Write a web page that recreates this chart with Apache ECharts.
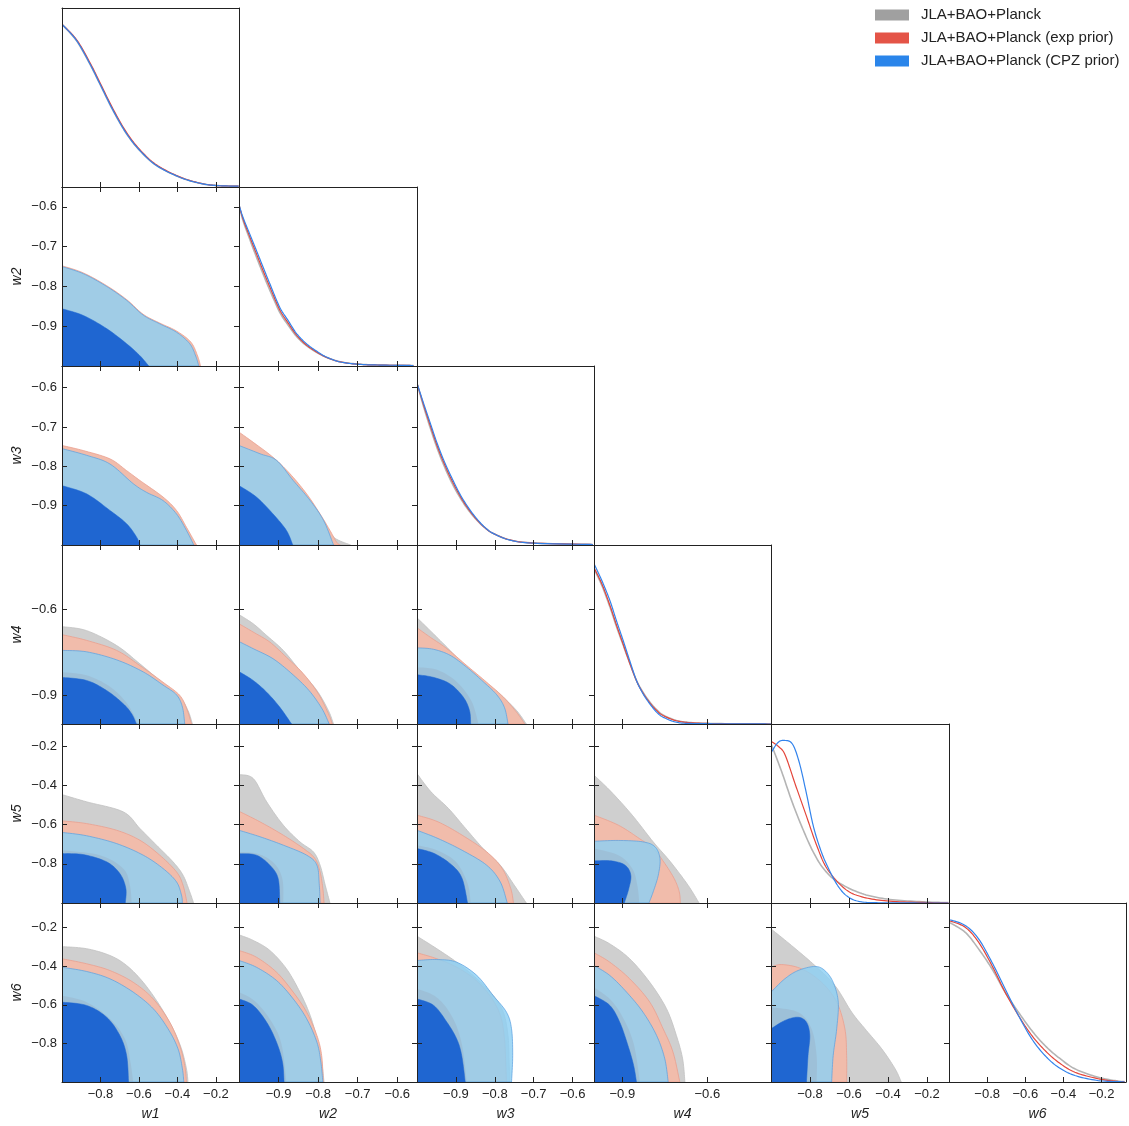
<!DOCTYPE html>
<html><head><meta charset="utf-8">
<script src="https://cdn.jsdelivr.net/npm/echarts@6/dist/echarts.min.js"></script>
<style>html,body{margin:0;padding:0;background:#fff}#c{width:1129px;height:1126px}</style>
</head><body><div id="c"></div>
<script>
// ---------------- data ----------------
const varNames = ['w1','w2','w3','w4','w5','w6'];
const axisMin = [-1,-1,-1,-1,-1,-1];
const axisMax = [-0.08,-0.55,-0.545,-0.375,-0.087,-0.072];
const tickVals = [[-0.8,-0.6,-0.4,-0.2],[-0.9,-0.8,-0.7,-0.6],[-0.9,-0.8,-0.7,-0.6],[-0.9,-0.6],[-0.8,-0.6,-0.4,-0.2],[-0.8,-0.6,-0.4,-0.2]];
const seriesNames = ['JLA+BAO+Planck','JLA+BAO+Planck (exp prior)','JLA+BAO+Planck (CPZ prior)'];

// 1D marginals (normalised densities)
const d1_gray = [[-1,1.0],[-0.924,0.898],[-0.855,0.755],[-0.803,0.632],[-0.734,0.468],[-0.664,0.326],[-0.595,0.223],[-0.509,0.132],[-0.388,0.06],[-0.284,0.023],[-0.198,0.009],[-0.082,0.005]];
const d1_red  = [[-1,1.0],[-0.924,0.905],[-0.855,0.765],[-0.803,0.642],[-0.734,0.478],[-0.664,0.334],[-0.595,0.229],[-0.509,0.136],[-0.388,0.062],[-0.284,0.024],[-0.198,0.009],[-0.082,0.005]];
const d1_blue = [[-1,1.0],[-0.924,0.9],[-0.855,0.757],[-0.803,0.634],[-0.734,0.47],[-0.664,0.327],[-0.595,0.224],[-0.509,0.132],[-0.388,0.06],[-0.284,0.023],[-0.198,0.009],[-0.082,0.005]];

const d2_gray = [[-1,0.99],[-0.99,0.895],[-0.973,0.78],[-0.956,0.67],[-0.939,0.565],[-0.922,0.465],[-0.897,0.33],[-0.876,0.252],[-0.854,0.18],[-0.829,0.124],[-0.803,0.083],[-0.778,0.052],[-0.744,0.026],[-0.70,0.012],[-0.65,0.006],[-0.559,0.003]];
const d2_red  = [[-1,0.99],[-0.99,0.905],[-0.973,0.795],[-0.956,0.69],[-0.939,0.585],[-0.922,0.485],[-0.897,0.345],[-0.876,0.265],[-0.854,0.188],[-0.829,0.128],[-0.803,0.085],[-0.778,0.052],[-0.744,0.025],[-0.70,0.011],[-0.65,0.006],[-0.559,0.003]];
const d2_blue = [[-1,0.99],[-0.99,0.914],[-0.973,0.812],[-0.956,0.71],[-0.939,0.607],[-0.922,0.505],[-0.897,0.361],[-0.876,0.28],[-0.854,0.198],[-0.829,0.136],[-0.803,0.09],[-0.778,0.054],[-0.744,0.025],[-0.70,0.011],[-0.65,0.006],[-0.559,0.003]];

const d3_gray = [[-1,0.994],[-0.983,0.85],[-0.966,0.72],[-0.949,0.6],[-0.931,0.49],[-0.91,0.38],[-0.889,0.29],[-0.868,0.215],[-0.846,0.152],[-0.824,0.103],[-0.803,0.07],[-0.761,0.031],[-0.70,0.012],[-0.548,0.003]];
const d3_red  = [[-1,0.994],[-0.983,0.86],[-0.966,0.735],[-0.949,0.615],[-0.931,0.505],[-0.91,0.395],[-0.889,0.3],[-0.868,0.222],[-0.846,0.155],[-0.824,0.103],[-0.803,0.07],[-0.761,0.031],[-0.70,0.012],[-0.548,0.003]];
const d3_blue = [[-1,0.994],[-0.983,0.87],[-0.966,0.75],[-0.949,0.63],[-0.931,0.52],[-0.91,0.41],[-0.889,0.31],[-0.868,0.23],[-0.846,0.16],[-0.824,0.105],[-0.803,0.07],[-0.761,0.03],[-0.70,0.011],[-0.548,0.003]];

const d4_gray = [[-1,0.955],[-0.972,0.85],[-0.944,0.72],[-0.921,0.6],[-0.897,0.485],[-0.874,0.375],[-0.85,0.268],[-0.827,0.195],[-0.803,0.135],[-0.78,0.09],[-0.756,0.056],[-0.709,0.022],[-0.651,0.008],[-0.55,0.002],[-0.375,0]];
const d4_red  = [[-1,0.96],[-0.972,0.86],[-0.944,0.73],[-0.921,0.61],[-0.897,0.49],[-0.874,0.375],[-0.85,0.265],[-0.827,0.19],[-0.803,0.13],[-0.78,0.085],[-0.756,0.052],[-0.709,0.02],[-0.651,0.007],[-0.55,0.002],[-0.375,0]];
const d4_blue = [[-1,0.985],[-0.972,0.88],[-0.944,0.759],[-0.921,0.636],[-0.897,0.513],[-0.874,0.39],[-0.85,0.267],[-0.827,0.186],[-0.803,0.124],[-0.78,0.075],[-0.756,0.042],[-0.709,0.011],[-0.651,0.003],[-0.5,0.001],[-0.375,0]];

const d5_gray = [[-1,0.97],[-0.994,0.96],[-0.945,0.806],[-0.892,0.622],[-0.838,0.458],[-0.784,0.315],[-0.731,0.212],[-0.659,0.13],[-0.534,0.058],[-0.391,0.022],[-0.212,0.007],[-0.09,0.002]];
const d5_red  = [[-1,0.994],[-0.96,0.96],[-0.927,0.908],[-0.874,0.724],[-0.82,0.54],[-0.766,0.355],[-0.713,0.212],[-0.623,0.089],[-0.534,0.038],[-0.391,0.011],[-0.176,0.002],[-0.09,0.001]];
const d5_blue = [[-1,0.92],[-0.994,0.935],[-0.965,0.985],[-0.937,0.999],[-0.892,0.98],[-0.856,0.868],[-0.82,0.683],[-0.784,0.478],[-0.748,0.335],[-0.713,0.232],[-0.659,0.109],[-0.605,0.038],[-0.534,0.007],[-0.4,0.001],[-0.09,0]];

const d6_gray = [[-1,0.982],[-0.915,0.92],[-0.845,0.818],[-0.775,0.696],[-0.706,0.552],[-0.636,0.429],[-0.566,0.316],[-0.497,0.224],[-0.427,0.152],[-0.34,0.081],[-0.218,0.029],[-0.116,0.006],[-0.08,0.003]];
const d6_red  = [[-1,0.992],[-0.915,0.951],[-0.845,0.859],[-0.775,0.716],[-0.706,0.552],[-0.636,0.409],[-0.566,0.286],[-0.497,0.194],[-0.427,0.122],[-0.34,0.06],[-0.218,0.02],[-0.131,0.005],[-0.08,0.002]];
const d6_blue = [[-1,0.999],[-0.915,0.962],[-0.845,0.88],[-0.775,0.736],[-0.706,0.573],[-0.636,0.409],[-0.566,0.265],[-0.497,0.163],[-0.427,0.091],[-0.34,0.04],[-0.218,0.009],[-0.08,0.001]];

// 2D contour boundaries [x (column var), y (row var)], from left edge to bottom edge
const w2w1_gray95 = [[-1,-0.752],[-0.889,-0.77],[-0.768,-0.802],[-0.664,-0.837],[-0.578,-0.874],[-0.492,-0.896],[-0.405,-0.917],[-0.338,-0.946],[-0.307,-0.976],[-0.292,-1]];
const w2w1_red95  = [[-1,-0.748],[-0.889,-0.766],[-0.768,-0.798],[-0.664,-0.833],[-0.578,-0.87],[-0.492,-0.892],[-0.405,-0.912],[-0.33,-0.94],[-0.295,-0.975],[-0.28,-1]];
const w2w1_red68  = [];
const w2w1_blue95 = [[-1,-0.75],[-0.889,-0.768],[-0.768,-0.80],[-0.664,-0.835],[-0.578,-0.872],[-0.492,-0.894],[-0.405,-0.915],[-0.336,-0.944],[-0.305,-0.975],[-0.289,-1]];
const w2w1_blue68 = [[-1,-0.856],[-0.889,-0.873],[-0.768,-0.906],[-0.664,-0.944],[-0.595,-0.974],[-0.549,-1]];

const w3w1_gray95 = [[-1,-0.757],[-0.872,-0.774],[-0.751,-0.796],[-0.63,-0.846],[-0.561,-0.868],[-0.475,-0.889],[-0.405,-0.923],[-0.355,-0.965],[-0.318,-1]];
const w3w1_red95  = [[-1,-0.747],[-0.889,-0.76],[-0.751,-0.781],[-0.664,-0.811],[-0.595,-0.836],[-0.475,-0.878],[-0.405,-0.912],[-0.353,-0.955],[-0.301,-1]];
const w3w1_red68  = [];
const w3w1_blue95 = [[-1,-0.755],[-0.872,-0.772],[-0.751,-0.794],[-0.63,-0.844],[-0.561,-0.866],[-0.475,-0.887],[-0.405,-0.921],[-0.353,-0.963],[-0.315,-1]];
const w3w1_blue68 = [[-1,-0.849],[-0.872,-0.87],[-0.751,-0.912],[-0.664,-0.946],[-0.612,-0.98],[-0.595,-1]];

const w3w2_gray95 = [[-1,-0.74],[-0.95,-0.762],[-0.905,-0.785],[-0.863,-0.836],[-0.82,-0.887],[-0.785,-0.94],[-0.761,-0.98],[-0.718,-1]];
const w3w2_red95  = [[-1,-0.713],[-0.964,-0.739],[-0.914,-0.777],[-0.871,-0.819],[-0.829,-0.87],[-0.795,-0.921],[-0.77,-0.963],[-0.753,-0.993],[-0.744,-1]];
const w3w2_red68  = [];
const w3w2_blue95 = [[-1,-0.747],[-0.947,-0.768],[-0.905,-0.785],[-0.863,-0.836],[-0.82,-0.887],[-0.786,-0.938],[-0.761,-1]];
const w3w2_blue68 = [[-1,-0.849],[-0.956,-0.878],[-0.914,-0.921],[-0.88,-0.963],[-0.864,-1]];

const w4w1_gray95 = [[-1,-0.66],[-0.872,-0.674],[-0.716,-0.726],[-0.595,-0.79],[-0.492,-0.848],[-0.388,-0.906],[-0.345,-0.953],[-0.322,-1]];
const w4w1_red95  = [[-1,-0.688],[-0.872,-0.708],[-0.716,-0.743],[-0.595,-0.796],[-0.475,-0.854],[-0.388,-0.9],[-0.35,-0.95],[-0.327,-1]];
const w4w1_red68  = [[-1,-0.819],[-0.872,-0.83],[-0.75,-0.87],[-0.66,-0.93],[-0.604,-1]];
const w4w1_blue95 = [[-1,-0.743],[-0.872,-0.748],[-0.716,-0.776],[-0.578,-0.818],[-0.475,-0.864],[-0.405,-0.898],[-0.374,-0.941],[-0.362,-1]];
const w4w1_blue68 = [[-1,-0.837],[-0.872,-0.848],[-0.768,-0.883],[-0.682,-0.929],[-0.638,-0.964],[-0.613,-1]];

const w4w2_gray95 = [[-1,-0.618],[-0.964,-0.65],[-0.93,-0.691],[-0.888,-0.743],[-0.846,-0.813],[-0.803,-0.883],[-0.774,-0.953],[-0.761,-1]];
const w4w2_red95  = [[-1,-0.65],[-0.964,-0.679],[-0.922,-0.714],[-0.88,-0.767],[-0.837,-0.825],[-0.799,-0.895],[-0.774,-0.964],[-0.764,-1]];
const w4w2_red68  = [];
const w4w2_blue95 = [[-1,-0.712],[-0.964,-0.737],[-0.914,-0.772],[-0.866,-0.825],[-0.823,-0.883],[-0.79,-0.947],[-0.772,-1]];
const w4w2_blue68 = [[-1,-0.817],[-0.964,-0.848],[-0.93,-0.889],[-0.897,-0.941],[-0.867,-1]];

const w4w3_gray95 = [[-1,-0.629],[-0.966,-0.674],[-0.923,-0.732],[-0.881,-0.79],[-0.83,-0.848],[-0.787,-0.895],[-0.744,-0.953],[-0.719,-1]];
const w4w3_red95  = [[-1,-0.664],[-0.966,-0.697],[-0.923,-0.737],[-0.872,-0.796],[-0.821,-0.854],[-0.778,-0.906],[-0.744,-0.959],[-0.723,-1]];
const w4w3_red68  = [[-1,-0.802],[-0.95,-0.81],[-0.9,-0.85],[-0.86,-0.92],[-0.842,-1]];
const w4w3_blue95 = [[-1,-0.734],[-0.958,-0.739],[-0.915,-0.76],[-0.872,-0.802],[-0.83,-0.852],[-0.795,-0.898],[-0.775,-0.943],[-0.766,-1]];
const w4w3_blue68 = [[-1,-0.828],[-0.958,-0.837],[-0.915,-0.86],[-0.881,-0.906],[-0.865,-0.953],[-0.862,-1]];

const w5w1_gray95 = [[-1,-0.447],[-0.872,-0.484],[-0.682,-0.535],[-0.595,-0.62],[-0.509,-0.705],[-0.423,-0.79],[-0.371,-0.858],[-0.336,-0.943],[-0.316,-1]];
const w5w1_red95  = [[-1,-0.581],[-0.872,-0.595],[-0.716,-0.629],[-0.595,-0.68],[-0.492,-0.756],[-0.405,-0.841],[-0.371,-0.909],[-0.35,-1]];
const w5w1_red68  = [[-1,-0.731],[-0.803,-0.756],[-0.682,-0.824],[-0.647,-0.909],[-0.638,-1]];
const w5w1_blue95 = [[-1,-0.64],[-0.872,-0.657],[-0.716,-0.697],[-0.578,-0.756],[-0.475,-0.824],[-0.405,-0.892],[-0.379,-0.96],[-0.374,-1]];
const w5w1_blue68 = [[-1,-0.748],[-0.889,-0.753],[-0.768,-0.79],[-0.699,-0.85],[-0.668,-0.926],[-0.671,-1]];

const w5w2_gray95 = [[-1,-0.345],[-0.964,-0.365],[-0.93,-0.484],[-0.888,-0.603],[-0.846,-0.688],[-0.812,-0.739],[-0.795,-0.807],[-0.782,-0.909],[-0.77,-1]];
const w5w2_red95  = [[-1,-0.532],[-0.947,-0.586],[-0.888,-0.654],[-0.837,-0.722],[-0.808,-0.773],[-0.795,-0.841],[-0.788,-0.926],[-0.785,-1]];
const w5w2_red68  = [[-1,-0.739],[-0.95,-0.75],[-0.91,-0.8],[-0.89,-0.88],[-0.888,-1]];
const w5w2_blue95 = [[-1,-0.629],[-0.947,-0.662],[-0.888,-0.705],[-0.829,-0.756],[-0.803,-0.807],[-0.797,-0.909],[-0.795,-1]];
const w5w2_blue68 = [[-1,-0.748],[-0.956,-0.756],[-0.922,-0.807],[-0.901,-0.875],[-0.897,-1]];

const w5w3_gray95 = [[-1,-0.34],[-0.964,-0.433],[-0.919,-0.518],[-0.875,-0.62],[-0.83,-0.722],[-0.786,-0.807],[-0.75,-0.909],[-0.719,-1]];
const w5w3_red95  = [[-1,-0.552],[-0.946,-0.586],[-0.884,-0.654],[-0.821,-0.739],[-0.781,-0.824],[-0.759,-0.926],[-0.752,-1]];
const w5w3_red68  = [[-1,-0.705],[-0.95,-0.73],[-0.9,-0.79],[-0.87,-0.9],[-0.862,-1]];
const w5w3_blue95 = [[-1,-0.629],[-0.946,-0.671],[-0.884,-0.731],[-0.821,-0.807],[-0.786,-0.892],[-0.768,-1]];
const w5w3_blue68 = [[-1,-0.722],[-0.955,-0.748],[-0.91,-0.807],[-0.884,-0.875],[-0.87,-1]];

const w5w4_gray95 = [[-1,-0.348],[-0.939,-0.433],[-0.865,-0.552],[-0.791,-0.688],[-0.73,-0.79],[-0.668,-0.909],[-0.629,-1]];
const w5w4_red95  = [[-1,-0.552],[-0.914,-0.603],[-0.84,-0.671],[-0.791,-0.722],[-0.754,-0.79],[-0.717,-0.875],[-0.699,-0.943],[-0.695,-1]];
const w5w4_red68  = [[-1,-0.722],[-0.914,-0.756],[-0.865,-0.824],[-0.847,-0.909],[-0.84,-1]];
const w5w4_blue95 = [[-1,-0.685],[-0.914,-0.681],[-0.828,-0.688],[-0.785,-0.713],[-0.767,-0.773],[-0.773,-0.858],[-0.791,-0.943],[-0.806,-1]];
const w5w4_blue68 = [[-1,-0.785],[-0.939,-0.785],[-0.89,-0.807],[-0.87,-0.858],[-0.877,-0.926],[-0.893,-1]];

const w6w1_gray95 = [[-1,-0.298],[-0.872,-0.309],[-0.751,-0.344],[-0.664,-0.396],[-0.578,-0.483],[-0.492,-0.603],[-0.423,-0.724],[-0.379,-0.828],[-0.353,-0.932],[-0.345,-1]];
const w6w1_red95  = [[-1,-0.361],[-0.872,-0.387],[-0.751,-0.422],[-0.63,-0.483],[-0.526,-0.569],[-0.44,-0.69],[-0.388,-0.811],[-0.362,-0.914],[-0.353,-1]];
const w6w1_red68  = [[-1,-0.552],[-0.872,-0.586],[-0.751,-0.672],[-0.673,-0.776],[-0.644,-0.897],[-0.63,-1]];
const w6w1_blue95 = [[-1,-0.405],[-0.872,-0.427],[-0.751,-0.465],[-0.63,-0.534],[-0.526,-0.62],[-0.449,-0.724],[-0.397,-0.828],[-0.374,-0.932],[-0.367,-1]];
const w6w1_blue68 = [[-1,-0.586],[-0.872,-0.603],[-0.768,-0.664],[-0.699,-0.759],[-0.664,-0.863],[-0.654,-1]];

const w6w2_gray95 = [[-1,-0.237],[-0.964,-0.266],[-0.922,-0.318],[-0.88,-0.413],[-0.846,-0.534],[-0.82,-0.655],[-0.803,-0.776],[-0.791,-0.897],[-0.785,-1]];
const w6w2_red95  = [[-1,-0.318],[-0.956,-0.353],[-0.905,-0.431],[-0.863,-0.534],[-0.829,-0.638],[-0.803,-0.759],[-0.791,-0.863],[-0.787,-1]];
const w6w2_red68  = [[-1,-0.534],[-0.96,-0.58],[-0.92,-0.68],[-0.893,-0.8],[-0.88,-1]];
const w6w2_blue95 = [[-1,-0.37],[-0.956,-0.405],[-0.905,-0.474],[-0.863,-0.569],[-0.829,-0.672],[-0.803,-0.794],[-0.793,-0.897],[-0.788,-1]];
const w6w2_blue68 = [[-1,-0.569],[-0.964,-0.603],[-0.93,-0.69],[-0.905,-0.794],[-0.89,-0.897],[-0.886,-1]];

const w6w3_gray95 = [[-1,-0.244],[-0.949,-0.309],[-0.898,-0.379],[-0.846,-0.465],[-0.804,-0.552],[-0.778,-0.638],[-0.766,-0.759],[-0.763,-0.897],[-0.761,-1]];
const w6w3_red95  = [[-1,-0.33],[-0.949,-0.361],[-0.898,-0.405],[-0.85,-0.47],[-0.81,-0.56],[-0.785,-0.66],[-0.775,-0.78],[-0.772,-0.9],[-0.77,-1]];
const w6w3_red68  = [[-1,-0.517],[-0.95,-0.56],[-0.91,-0.66],[-0.885,-0.8],[-0.872,-1]];
const w6w3_blue95 = [[-1,-0.37],[-0.949,-0.365],[-0.898,-0.379],[-0.846,-0.448],[-0.804,-0.552],[-0.77,-0.638],[-0.757,-0.724],[-0.754,-0.863],[-0.757,-1]];
const w6w3_blue68 = [[-1,-0.569],[-0.957,-0.603],[-0.923,-0.69],[-0.898,-0.776],[-0.885,-0.863],[-0.876,-1]];

const w6w4_gray95 = [[-1,-0.244],[-0.944,-0.284],[-0.874,-0.361],[-0.803,-0.483],[-0.744,-0.62],[-0.709,-0.759],[-0.687,-0.88],[-0.679,-1]];
const w6w4_red95  = [[-1,-0.33],[-0.944,-0.379],[-0.874,-0.465],[-0.803,-0.586],[-0.756,-0.724],[-0.721,-0.845],[-0.697,-1]];
const w6w4_red68  = [[-1,-0.509],[-0.944,-0.57],[-0.9,-0.66],[-0.86,-0.8],[-0.838,-1]];
const w6w4_blue95 = [[-1,-0.396],[-0.944,-0.448],[-0.885,-0.534],[-0.827,-0.638],[-0.779,-0.759],[-0.75,-0.88],[-0.738,-1]];
const w6w4_blue68 = [[-1,-0.552],[-0.944,-0.603],[-0.909,-0.69],[-0.88,-0.811],[-0.86,-0.914],[-0.85,-1]];

const w6w5_gray95 = [[-1,-0.206],[-0.895,-0.292],[-0.775,-0.396],[-0.672,-0.5],[-0.586,-0.638],[-0.518,-0.724],[-0.432,-0.828],[-0.363,-0.932],[-0.332,-1]];
const w6w5_red95  = [[-1,-0.405],[-0.946,-0.391],[-0.844,-0.413],[-0.741,-0.483],[-0.663,-0.586],[-0.621,-0.724],[-0.612,-0.863],[-0.612,-1]];
const w6w5_red68  = [[-1,-0.612],[-0.861,-0.638],[-0.792,-0.724],[-0.766,-0.863],[-0.766,-1]];
const w6w5_blue95 = [[-1,-0.534],[-0.929,-0.465],[-0.861,-0.422],[-0.775,-0.401],[-0.724,-0.422],[-0.681,-0.483],[-0.655,-0.586],[-0.663,-0.724],[-0.681,-0.863],[-0.689,-1]];
const w6w5_blue68 = [[-1,-0.724],[-0.929,-0.681],[-0.861,-0.664],[-0.818,-0.69],[-0.801,-0.759],[-0.81,-0.863],[-0.818,-1]];

// ---------------- assembly ----------------
const diagData = [
  [d1_gray,d1_red,d1_blue],[d2_gray,d2_red,d2_blue],[d3_gray,d3_red,d3_blue],
  [d4_gray,d4_red,d4_blue],[d5_gray,d5_red,d5_blue],[d6_gray,d6_red,d6_blue]
];
const panels = [
  {r:1,c:0,g:w2w1_gray95,rd:w2w1_red95,r68:w2w1_red68,b:w2w1_blue95,b68:w2w1_blue68},
  {r:2,c:0,g:w3w1_gray95,rd:w3w1_red95,r68:w3w1_red68,b:w3w1_blue95,b68:w3w1_blue68},
  {r:2,c:1,g:w3w2_gray95,rd:w3w2_red95,r68:w3w2_red68,b:w3w2_blue95,b68:w3w2_blue68},
  {r:3,c:0,g:w4w1_gray95,rd:w4w1_red95,r68:w4w1_red68,b:w4w1_blue95,b68:w4w1_blue68},
  {r:3,c:1,g:w4w2_gray95,rd:w4w2_red95,r68:w4w2_red68,b:w4w2_blue95,b68:w4w2_blue68},
  {r:3,c:2,g:w4w3_gray95,rd:w4w3_red95,r68:w4w3_red68,b:w4w3_blue95,b68:w4w3_blue68},
  {r:4,c:0,g:w5w1_gray95,rd:w5w1_red95,r68:w5w1_red68,b:w5w1_blue95,b68:w5w1_blue68},
  {r:4,c:1,g:w5w2_gray95,rd:w5w2_red95,r68:w5w2_red68,b:w5w2_blue95,b68:w5w2_blue68},
  {r:4,c:2,g:w5w3_gray95,rd:w5w3_red95,r68:w5w3_red68,b:w5w3_blue95,b68:w5w3_blue68},
  {r:4,c:3,g:w5w4_gray95,rd:w5w4_red95,r68:w5w4_red68,b:w5w4_blue95,b68:w5w4_blue68},
  {r:5,c:0,g:w6w1_gray95,rd:w6w1_red95,r68:w6w1_red68,b:w6w1_blue95,b68:w6w1_blue68},
  {r:5,c:1,g:w6w2_gray95,rd:w6w2_red95,r68:w6w2_red68,b:w6w2_blue95,b68:w6w2_blue68},
  {r:5,c:2,g:w6w3_gray95,rd:w6w3_red95,r68:w6w3_red68,b:w6w3_blue95,b68:w6w3_blue68},
  {r:5,c:3,g:w6w4_gray95,rd:w6w4_red95,r68:w6w4_red68,b:w6w4_blue95,b68:w6w4_blue68},
  {r:5,c:4,g:w6w5_gray95,rd:w6w5_red95,r68:w6w5_red68,b:w6w5_blue95,b68:w6w5_blue68}
];

const lefts = [62,239,417,594,771,949,1126];
const tops  = [8,187,366,545,724,903,1082];
const AX = '#222';
const lineColors = ['#b4b4b4','#e4453a','#3283ec'];
const lineWidths = [1.6,1.2,1.2];
const legendColors = ['#a0a0a0','#e45447','#2a85ea'];
const labelFont = {fontFamily:'Liberation Sans',fontSize:13,color:'#222'};
const nameFont = {fontFamily:'Liberation Sans',fontSize:14,fontStyle:'italic',color:'#222'};
function fmt(v){ return (v<0?'\u2212':'')+Math.abs(v).toFixed(1); }

function spline(pts, seg){
  const out=[];
  for(let i=0;i<pts.length-1;i++){
    const p0=pts[i-1]||pts[i], p1=pts[i], p2=pts[i+1], p3=pts[i+2]||pts[i+1];
    for(let t=0;t<seg;t++){
      const s=t/seg, s2=s*s, s3=s2*s;
      const f=k=>0.5*((2*p1[k])+(-p0[k]+p2[k])*s+(2*p0[k]-5*p1[k]+4*p2[k]-p3[k])*s2+(-p0[k]+3*p1[k]-3*p2[k]+p3[k])*s3);
      out.push([f(0),f(1)]);
    }
  }
  out.push(pts[pts.length-1]);
  return out;
}

const grids=[], xAxes=[], yAxes=[], series=[];
function baseAxis(extra){
  return Object.assign({type:'value', z:10, splitLine:{show:false}, axisLine:{show:true,onZero:false,lineStyle:{color:AX,width:1}}}, extra);
}

function addPanel(r,c){
  const gi=grids.length;
  grids.push({left:lefts[c], top:tops[r], width:lefts[c+1]-lefts[c], height:tops[r+1]-tops[r], show:false});
  const diag = r===c;
  const xb = xAxes.length;
  xAxes.push(baseAxis({gridIndex:gi, position:'bottom', min:axisMin[c], max:axisMax[c],
    axisTick:{show:true, inside:true, length:5, customValues:tickVals[c], lineStyle:{color:AX}},
    axisLabel:Object.assign({show:r===5, customValues:tickVals[c], formatter:fmt, margin:6}, labelFont),
    name: r===5 ? varNames[c] : '', nameLocation:'middle', nameGap:25, nameTextStyle:nameFont}));
  xAxes.push(baseAxis({gridIndex:gi, position:'top', min:axisMin[c], max:axisMax[c],
    axisTick:{show:!diag, inside:true, length:5, customValues:tickVals[c], lineStyle:{color:AX}},
    axisLabel:{show:false}}));
  const yl = yAxes.length;
  if(diag){
    yAxes.push(baseAxis({gridIndex:gi, position:'left', min:0, max:1.1, axisTick:{show:false}, axisLabel:{show:false}}));
    yAxes.push(baseAxis({gridIndex:gi, position:'right', min:0, max:1.1, axisTick:{show:false}, axisLabel:{show:false}}));
  } else {
    yAxes.push(baseAxis({gridIndex:gi, position:'left', min:axisMin[r], max:axisMax[r],
      axisTick:{show:true, inside:true, length:5, customValues:tickVals[r], lineStyle:{color:AX}},
      axisLabel:Object.assign({show:c===0, customValues:tickVals[r], formatter:fmt, margin:5}, labelFont),
      name: c===0 ? varNames[r] : '', nameLocation:'middle', nameGap:38, nameRotate:90, nameTextStyle:nameFont}));
    yAxes.push(baseAxis({gridIndex:gi, position:'right', min:axisMin[r], max:axisMax[r],
      axisTick:{show:true, inside:true, length:5, customValues:tickVals[r], lineStyle:{color:AX}},
      axisLabel:{show:false}}));
  }
  return {xi:xb, yi:yl};
}

function polySeries(pts, ax, fill, stroke, lw){
  if(!pts || !pts.length) return;
  series.push({
    type:'custom', xAxisIndex:ax.xi, yAxisIndex:ax.yi, clip:true, silent:true, animation:false,
    data: pts,
    renderItem: function(params, api){
      if(params.dataIndex!==0) return null;
      const px = pts.map(p=>api.coord(p));
      const curve = spline(px, 10);
      const corner = api.coord([-1,-1]);
      return {type:'polygon', shape:{points:curve.concat([corner])},
        style:{fill:fill, stroke:stroke||null, lineWidth:lw||0}};
    }
  });
}

function curveSeries(pts, ax, k){
  series.push({
    type:'custom', name:seriesNames[k], xAxisIndex:ax.xi, yAxisIndex:ax.yi, clip:true, silent:true, animation:false,
    itemStyle:{color:lineColors[k]}, z:3,
    data: pts,
    renderItem: function(params, api){
      if(params.dataIndex!==0) return null;
      const px = pts.map(p=>api.coord(p));
      return {type:'polyline', shape:{points:spline(px, 12)},
        style:{fill:null, stroke:lineColors[k], lineWidth:lineWidths[k]}};
    }
  });
}

for(let i=0;i<6;i++){
  const ax = addPanel(i,i);
  diagData[i].forEach((d,k)=>curveSeries(d, ax, k));
}
panels.forEach(p=>{
  const ax = addPanel(p.r,p.c);
  polySeries(p.g, ax, '#cfcfcf', '#c2c2c2', 0.8);
  polySeries(p.rd, ax, '#f1bcab', '#eaa08f', 0.8);
  polySeries(p.r68, ax, '#e47c60', null, 0);
  polySeries(p.b, ax, 'rgba(142,207,243,0.82)', 'rgba(90,160,225,0.9)', 0.8);
  polySeries(p.b68, ax, '#1f66d1', '#1f66d1', 0.5);
});

const chart = echarts.init(document.getElementById('c'), null, {renderer:'canvas'});
chart.setOption({
  animation:false,
  backgroundColor:'#ffffff',
  grid:grids, xAxis:xAxes, yAxis:yAxes, series:series,
  legend:{orient:'vertical', left:875, top:7, itemWidth:34, itemHeight:11, itemGap:7, padding:0,
    selectedMode:false, icon:'rect',
    textStyle:{fontFamily:'Liberation Sans', fontSize:15, color:'#222', padding:[0,0,0,7], lineHeight:16},
    data: seriesNames.map((n,i)=>({name:n, icon:'rect', itemStyle:{color:legendColors[i], borderWidth:0}}))}
});
</script></body></html>
